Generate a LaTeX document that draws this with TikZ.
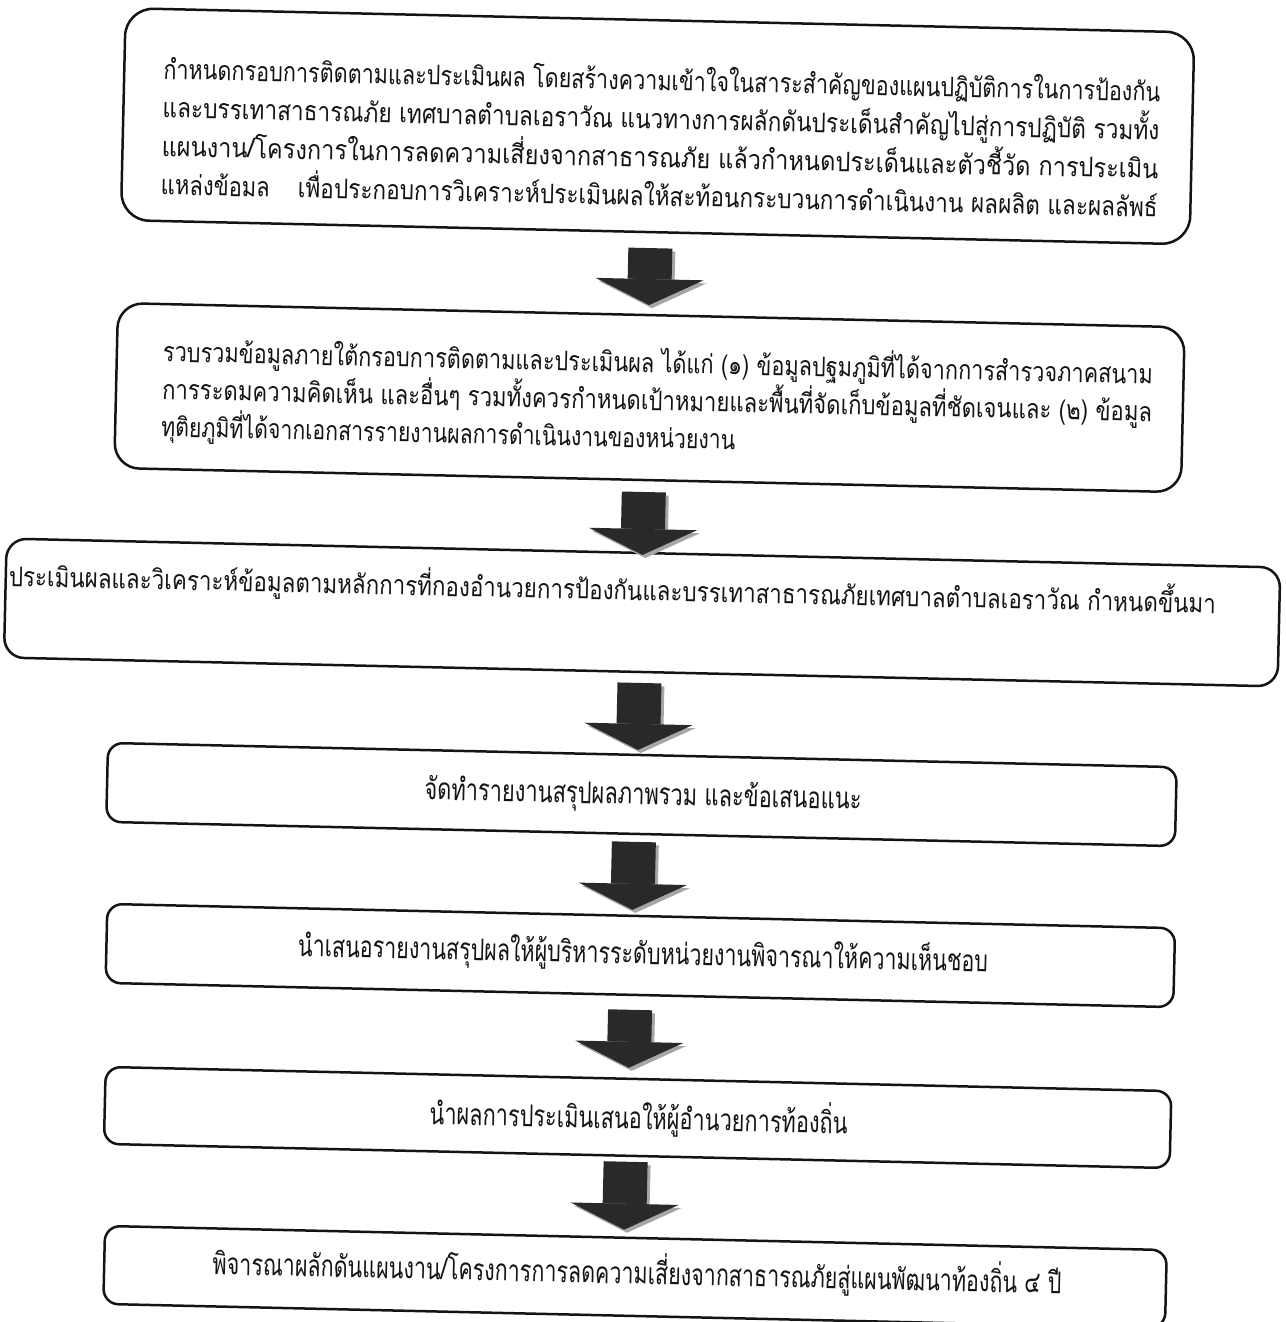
\documentclass[tikz,border=0pt]{standalone}
\usepackage{fontspec}
\usepackage{graphicx}
\newfontfamily\thai[Script=Thai]{Loma}
\usetikzlibrary{arrows.meta}
\tikzset{
  x=1pt, y=-1pt,
  box/.style={draw=black!92, line width=2.5pt, fill=white, inner sep=0pt, rounded corners=#1},
  box/.default=15pt,
  txt/.style={inner sep=0pt, text=black!92, font=\thai\fontsize{27}{30}\selectfont},
  txtb/.style={inner sep=0pt, text=black!92, font=\thai\fontsize{30}{33}\selectfont},
  flow/.style={line width=44pt, draw=black!84, -{Triangle[width=108pt,length=26pt,line width=0pt]}},
  flowshadow/.style={line width=44pt, draw=black!35, -{Triangle[width=108pt,length=26pt,line width=0pt]}}
}
\newcommand{\fitw}[2]{\resizebox{#1}{\height}{#2}}
\begin{document}
\begin{tikzpicture}
\fill[white] (0,0) rectangle (1285,1322);
\useasboundingbox (0,0) rectangle (1285,1322);
\begin{scope}[rotate around={-1.3:(642,661)}, transform shape]
  % boxes
  \node[box=28pt, minimum width=1069pt, minimum height=212pt] (b1) at (645.5,126) {};
  \node[box=25pt, minimum width=1067pt, minimum height=165pt] (b2) at (643.5,397.5) {};
  \node[box=20pt, minimum width=1274pt, minimum height=119pt] (b3) at (641,612.5) {};
  \node[box, minimum width=1069pt, minimum height=79pt] (b4) at (644.5,794.5) {};
  \node[box, minimum width=1068pt, minimum height=79pt] (b5) at (647,955.5) {};
  \node[box, minimum width=1066pt, minimum height=77pt] (b6) at (648,1117.5) {};
  \node[box, minimum width=1062pt, minimum height=78pt] (b7) at (649,1277) {};

  % box 1 text
  \node[txt, anchor=base west] (t11) at (150,90) {\fitw{997pt}{กำหนดกรอบการติดตามและประเมินผล โดยสร้างความเข้าใจในสาระสำคัญของแผนปฏิบัติการในการป้องกัน}};
  \node[txt, anchor=base west] (t12) at (150,128.5) {\fitw{997pt}{และบรรเทาสาธารณภัย เทศบาลตำบลเอราวัณ แนวทางการผลักดันประเด็นสำคัญไปสู่การปฏิบัติ รวมทั้ง}};
  \node[txt, anchor=base west] (t13) at (150,167) {\fitw{997pt}{แผนงาน/โครงการในการลดความเสี่ยงจากสาธารณภัย แล้วกำหนดประเด็นและตัวชี้วัด การประเมิน}};
  \node[txt, anchor=base west] (t14a) at (150,205.5) {\fitw{109pt}{แหล่งข้อมล}};
  \node[txt, anchor=base west] (t14b) at (287,205.5) {\fitw{860pt}{เพื่อประกอบการวิเคราะห์ประเมินผลให้สะท้อนกระบวนการดำเนินงาน ผลผลิต และผลลัพธ์}};

  % box 2 text
  \node[txt, anchor=base west] (t21) at (156,372.5) {\fitw{990pt}{รวบรวมข้อมูลภายใต้กรอบการติดตามและประเมินผล ได้แก่ (๑) ข้อมูลปฐมภูมิที่ได้จากการสำรวจภาคสนาม}};
  \node[txt, anchor=base west] (t22) at (156,410) {\fitw{990pt}{การระดมความคิดเห็น และอื่นๆ รวมทั้งควรกำหนดเป้าหมายและพื้นที่จัดเก็บข้อมูลที่ชัดเจนและ (๒) ข้อมูล}};
  \node[txt, anchor=base west] (t23) at (156,447.5) {\fitw{574pt}{ทุติยภูมิที่ได้จากเอกสารรายงานผลการดำเนินงานของหน่วยงาน}};

  % box 3 text
  \node[txt, anchor=base west] (t3) at (7,600.5) {\fitw{1207pt}{ประเมินผลและวิเคราะห์ข้อมูลตามหลักการที่กองอำนวยการป้องกันและบรรเทาสาธารณภัยเทศบาลตำบลเอราวัณ กำหนดขึ้นมา}};

  % boxes 4-7 text
  \node[txtb, anchor=base] (t4) at (646,804.5) {\fitw{437pt}{จัดทำรายงานสรุปผลภาพรวม และข้อเสนอแนะ}};
  \node[txtb, anchor=base] (t5) at (649.7,964) {\fitw{690pt}{นำเสนอรายงานสรุปผลให้ผู้บริหารระดับหน่วยงานพิจารณาให้ความเห็นชอบ}};
  \node[txtb, anchor=base] (t6) at (649,1129) {\fitw{418pt}{นำผลการประเมินเสนอให้ผู้อำนวยการท้องถิ่น}};
  \node[txtb, anchor=base] (t7) at (651,1284) {\fitw{849pt}{พิจารณาผลักดันแผนงาน/โครงการการลดความเสี่ยงจากสาธารณภัยสู่แผนพัฒนาท้องถิ่น ๔ ปี}};

  % arrow end points
  \coordinate (a1s) at (641,248);  \coordinate (a1e) at (641,305);
  \coordinate (a2s) at (640,492);  \coordinate (a2e) at (640,555);
  \coordinate (a3s) at (640,683);  \coordinate (a3e) at (640,750);
  \coordinate (a4s) at (638,842);  \coordinate (a4e) at (638,910);
  \coordinate (a5s) at (638,1010); \coordinate (a5e) at (638,1068);
  \coordinate (a6s) at (637,1162); \coordinate (a6e) at (637,1230);

  \foreach \i in {1,...,6}{
    \draw[flowshadow] ([xshift=3pt,yshift=-3pt]a\i s) -- ([xshift=3pt,yshift=-3pt]a\i e);
    \draw[flow] (a\i s) -- (a\i e);
  }
\end{scope}
\end{tikzpicture}
\end{document}
